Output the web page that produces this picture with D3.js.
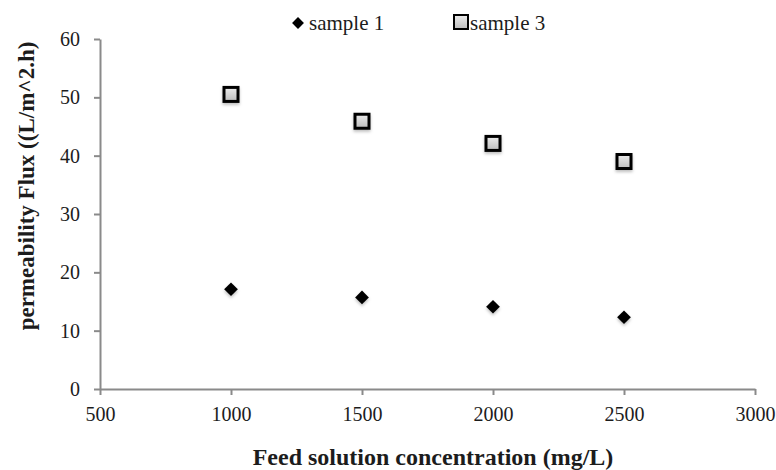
<!DOCTYPE html>
<html>
<head>
<meta charset="utf-8">
<script src="https://cdn.jsdelivr.net/npm/d3@7"></script>
<style>
  body { margin: 0; background: #fff; }
  svg { display: block; }
</style>
</head>
<body>
<div id="chart"></div>
<script>
const concentrations = [1000, 1500, 2000, 2500]
const sample1 = [17.1, 15.7, 14.1, 12.3]
const sample3 = [50.5, 45.9, 42.1, 39.0]
const xTicks = [500, 1000, 1500, 2000, 2500, 3000]
const yTicks = [0, 10, 20, 30, 40, 50, 60]
const seriesNames = ['sample 1', 'sample 3']

const width = 776, height = 470
const margin = {top: 39, right: 21, bottom: 81, left: 100}
const font = '"Liberation Serif", "Times New Roman", serif'
const axisColor = '#8a8a8a'
const textColor = '#1c1c1c'

const svg = d3.select('#chart').append('svg')
  .attr('width', width)
  .attr('height', height)
  .attr('viewBox', `0 0 ${width} ${height}`)

const defs = svg.append('defs')
const grad = defs.append('linearGradient')
  .attr('id', 'sqFill')
  .attr('x1', 0).attr('y1', 0).attr('x2', 0).attr('y2', 1)
grad.append('stop').attr('offset', '0%').attr('stop-color', '#ececec')
grad.append('stop').attr('offset', '100%').attr('stop-color', '#bcbcbc')

const shadow = defs.append('filter')
  .attr('id', 'shadow')
  .attr('x', '-50%').attr('y', '-50%').attr('width', '200%').attr('height', '200%')
shadow.append('feDropShadow')
  .attr('dx', 0).attr('dy', 2).attr('stdDeviation', 1.5)
  .attr('flood-color', '#000').attr('flood-opacity', 0.25)

const x = d3.scaleLinear()
  .domain([500, 3000])
  .range([margin.left, width - margin.right])
const y = d3.scaleLinear()
  .domain([0, 60])
  .range([height - margin.bottom, margin.top])

// x axis
const xAxis = svg.append('g')
  .attr('transform', `translate(0, ${y(0)})`)
  .call(d3.axisBottom(x).tickValues(xTicks).tickFormat(d3.format('d'))
    .tickSize(6).tickSizeOuter(0).tickPadding(12))
xAxis.select('.domain').attr('stroke', axisColor).attr('stroke-width', 2)
xAxis.selectAll('.tick line').attr('stroke', axisColor).attr('stroke-width', 2)
xAxis.selectAll('.tick text')
  .attr('fill', textColor)
  .style('font-family', font)
  .style('font-size', '20px')

// y axis
const yAxis = svg.append('g')
  .attr('transform', `translate(${x(500)}, 0)`)
  .call(d3.axisLeft(y).tickValues(yTicks).tickSize(6).tickSizeOuter(0).tickPadding(14))
yAxis.select('.domain').attr('stroke', axisColor).attr('stroke-width', 2)
yAxis.selectAll('.tick line').attr('stroke', axisColor).attr('stroke-width', 2)
yAxis.selectAll('.tick text')
  .attr('fill', textColor)
  .style('font-family', font)
  .style('font-size', '20px')

// axis titles
svg.append('text')
  .attr('x', 433)
  .attr('y', 465)
  .attr('text-anchor', 'middle')
  .attr('fill', textColor)
  .style('font-family', font)
  .style('font-size', '24px')
  .style('font-weight', 'bold')
  .text('Feed solution concentration (mg/L)')

svg.append('text')
  .attr('transform', 'translate(34, 186) rotate(-90)')
  .attr('text-anchor', 'middle')
  .attr('fill', textColor)
  .style('font-family', font)
  .style('font-size', '23px')
  .style('font-weight', 'bold')
  .text('permeability Flux ((L/m^2.h)')

const diamond = d3.symbol().type(d3.symbolDiamond2).size(120)

// sample 1 - black diamonds
svg.append('g')
  .selectAll('path')
  .data(concentrations.map((c, i) => ({x: c, y: sample1[i]})))
  .join('path')
    .attr('d', diamond)
    .attr('transform', d => `translate(${x(d.x)}, ${y(d.y)})`)
    .attr('fill', '#000')
    .attr('filter', 'url(#shadow)')

// sample 3 - gray squares
const sq = 14
svg.append('g')
  .selectAll('rect')
  .data(concentrations.map((c, i) => ({x: c, y: sample3[i]})))
  .join('rect')
    .attr('x', d => x(d.x) - sq / 2)
    .attr('y', d => y(d.y) - sq / 2)
    .attr('width', sq)
    .attr('height', sq)
    .attr('fill', 'url(#sqFill)')
    .attr('stroke', '#000')
    .attr('stroke-width', 3)
    .attr('filter', 'url(#shadow)')

// legend
const legend = svg.append('g')
legend.append('path')
  .attr('d', d3.symbol().type(d3.symbolDiamond2).size(90))
  .attr('transform', 'translate(298, 23)')
  .attr('fill', '#000')
legend.append('text')
  .attr('x', 309).attr('y', 30)
  .attr('fill', textColor)
  .style('font-family', font)
  .style('font-size', '21px')
  .text(seriesNames[0])
legend.append('rect')
  .attr('x', 454).attr('y', 15)
  .attr('width', 14).attr('height', 14)
  .attr('fill', 'url(#sqFill)')
  .attr('stroke', '#000')
  .attr('stroke-width', 2)
legend.append('text')
  .attr('x', 470).attr('y', 30)
  .attr('fill', textColor)
  .style('font-family', font)
  .style('font-size', '21px')
  .text(seriesNames[1])
</script>
</body>
</html>
